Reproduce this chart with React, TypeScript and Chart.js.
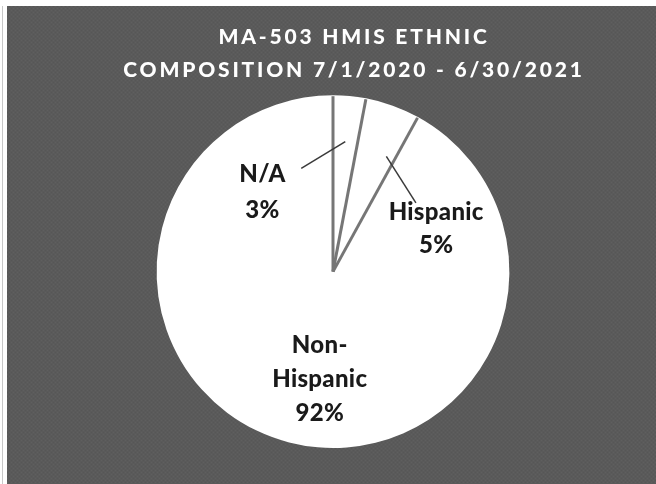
import React, { useEffect, useRef } from "react";
import { Chart, registerables } from "chart.js";

Chart.register(...registerables);

const categories = ["N/A", "Hispanic", "Non-Hispanic"];
const values = [3, 5, 92];
const labelLines = [["N/A", "3%"], ["Hispanic", "5%"], ["Non-", "Hispanic", "92%"]];
const titleLines = ["MA-503 HMIS ETHNIC", "COMPOSITION 7/1/2020 - 6/30/2021"];

// layout: label centre offsets from pie centre (as fraction of radius), leader line settings
const labelLayout = [
  { lx: -0.40, ly: -0.45, lh: 36, leader: true, lead: { f: 0.5, r: 0.74 }, tail: { x: -0.18, y: -0.585 } },
  { lx: 0.585, ly: -0.24, lh: 33, leader: true, lead: { f: 0.78, r: 0.72 }, tail: { x: 0.47, y: -0.39 } },
  { lx: -0.075, ly: 0.61, lh: 34, leader: false, lead: { f: 0.5, r: 0.5 }, tail: { x: 0, y: 0 } },
];
const titleShift = 21;

const bgPlugin = {
  id: "bgPattern",
  afterLayout(chart: any) {
    if (chart.titleBlock) {
      chart.titleBlock.left += titleShift;
      chart.titleBlock.right += titleShift;
    }
  },
  beforeDraw(chart: any) {
    const ctx = chart.ctx;
    const tile = document.createElement("canvas");
    tile.width = 4;
    tile.height = 4;
    const t = tile.getContext("2d")!;
    t.fillStyle = "#5a5a5a";
    t.fillRect(0, 0, 4, 4);
    t.fillStyle = "#5f5f5f";
    t.fillRect(0, 0, 1, 1);
    t.fillRect(2, 2, 1, 1);
    t.fillStyle = "#565656";
    t.fillRect(2, 0, 1, 1);
    t.fillRect(0, 2, 1, 1);
    ctx.save();
    ctx.fillStyle = ctx.createPattern(tile, "repeat");
    ctx.fillRect(0, 0, chart.width, chart.height);
    ctx.restore();
    (ctx as any).letterSpacing = "2.8px";
  },
  beforeDatasetsDraw(chart: any) {
    (chart.ctx as any).letterSpacing = "0px";
  },
  afterDatasetsDraw(chart: any) {
    const ctx = chart.ctx;
    const meta = chart.getDatasetMeta(0);
    ctx.save();
    (ctx as any).letterSpacing = "0px";
    // slice separators
    meta.data.forEach((arc: any) => {
      const p = arc.getProps(["x", "y", "startAngle", "outerRadius"], true);
      ctx.strokeStyle = "#767676";
      ctx.lineWidth = 3;
      ctx.beginPath();
      ctx.moveTo(p.x, p.y);
      ctx.lineTo(p.x + Math.cos(p.startAngle) * (p.outerRadius - 1), p.y + Math.sin(p.startAngle) * (p.outerRadius - 1));
      ctx.stroke();
    });
    meta.data.forEach((arc: any, i: number) => {
      const p = arc.getProps(["x", "y", "startAngle", "endAngle", "outerRadius"], true);
      const R = p.outerRadius;
      const L = labelLayout[i];
      if (L.leader) {
        const a = p.startAngle + (p.endAngle - p.startAngle) * L.lead.f;
        const x1 = p.x + Math.cos(a) * R * L.lead.r;
        const y1 = p.y + Math.sin(a) * R * L.lead.r;
        const x2 = p.x + L.tail.x * R;
        const y2 = p.y + L.tail.y * R;
        ctx.strokeStyle = "#3a3a3a";
        ctx.lineWidth = 1.5;
        ctx.beginPath();
        ctx.moveTo(x1, y1);
        ctx.lineTo(x2, y2);
        ctx.stroke();
      }
      const lines = labelLines[i];
      const cx = p.x + L.lx * R;
      const cy = p.y + L.ly * R;
      ctx.fillStyle = "#1a1a1a";
      ctx.font = "900 24px Lato";
      (ctx as any).letterSpacing = "0.3px";
      ctx.textAlign = "center";
      ctx.textBaseline = "middle";
      lines.forEach((s, k) => {
        ctx.fillText(s, cx, cy + (k - (lines.length - 1) / 2) * L.lh);
      });
    });
    ctx.restore();
  },
};

export default function App() {
  const ref = useRef<HTMLCanvasElement>(null);
  useEffect(() => {
    document.body.style.margin = "0";
    const chart = new Chart(ref.current!, {
      type: "pie",
      data: {
        labels: categories,
        datasets: [
          {
            data: values,
            backgroundColor: "#ffffff",
            borderWidth: 0,
          },
        ],
      },
      options: {
        animation: false,
        responsive: false,
        layout: { padding: { left: 3, right: 0, top: 0, bottom: 36 } },
        plugins: {
          legend: { display: false },
          tooltip: { enabled: false },
          title: {
            display: true,
            text: titleLines,
            color: "#ffffff",
            font: { family: "Lato", size: 21, weight: "900", lineHeight: 1.6 },
            padding: { top: 14, bottom: 8 },
          },
        },
      },
      plugins: [bgPlugin],
    });
    return () => chart.destroy();
  }, []);
  return (
    <div style={{ position: "relative", width: 656, height: 484, background: "#ffffff" }}>
      <div style={{ position: "absolute", left: 2, top: 6, width: 1, height: 478, background: "#c8c8c8" }} />
      <canvas
        ref={ref}
        width={649}
        height={478}
        style={{ position: "absolute", left: 7, top: 6, width: 649, height: 478 }}
      />
    </div>
  );
}
